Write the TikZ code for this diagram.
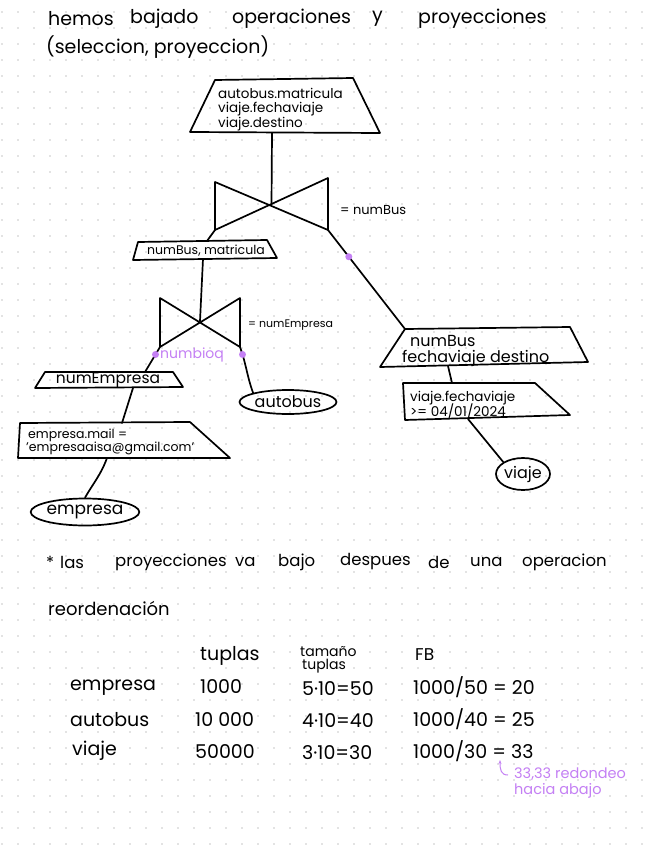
\documentclass[tikz,border=0pt]{standalone}
\usepackage{fontspec}
\setmainfont{Poppins}
\usetikzlibrary{shapes.geometric,arrows.meta}
\definecolor{violetink}{RGB}{196,128,244}
\definecolor{griddot}{RGB}{200,200,200}
\newcommand{\fsz}[1]{\fontsize{#1}{#1}\selectfont}
\begin{document}
\begin{tikzpicture}[x=1pt,y=-1pt,
  ink/.style={line width=1.7pt, line cap=round, line join=round},
  word/.style={font=\fsz{19}, inner sep=0pt, anchor=west},
  lbl/.style={font=\fsz{13.5}, inner sep=0pt, anchor=west},
  tbl/.style={font=\fsz{19}, inner sep=0pt, anchor=west},
  oval/.style={draw, ink, ellipse, inner sep=0pt},
  pdot/.style={fill=violetink, circle, inner sep=0pt, minimum size=7pt},
  ptxt/.style={text=violetink, inner sep=0pt, anchor=west}]
\useasboundingbox (0,0) rectangle (656,848);
\fill[white] (0,0) rectangle (656,848);
% dot grid
\foreach \i in {0,...,40} \foreach \j in {0,...,52}
  \fill[griddot] ({2+16*\i},{12+16*\j}) circle (0.9);

% title
\node[word] (t1) at (48,19) {hemos};
\node[word] (t2) at (130,19) {bajado};
\node[word] (t3) at (232,19) {operaciones};
\node[word] (t4) at (372,19) {y};
\node[word] (t5) at (418,19) {proyecciones};
\node[word] (t6) at (46,47) {(seleccion, proyeccion)};

% top projection
\coordinate (p1tl) at (215,80); \coordinate (p1tr) at (353,78);
\coordinate (p1br) at (380,133); \coordinate (p1bl) at (190,132);
\draw[ink] (p1tl) -- (p1tr) -- (p1br) -- (p1bl) -- cycle;
\node[lbl] (p1a) at (218,93) {autobus.matricula};
\node[lbl] (p1b) at (218,109) {viaje.fechaviaje};
\node[lbl] (p1c) at (218,124) {viaje.destino};
\coordinate (p1s) at (272,133);

% join 1
\coordinate (j1tl) at (215,182); \coordinate (j1bl) at (215,230);
\coordinate (j1tr) at (328,178); \coordinate (j1br) at (328,230);
\coordinate (j1c) at (271.5,205);
\draw[ink] (j1tl) -- (j1bl) -- (j1tr) -- (j1br) -- cycle;
\draw[ink] (p1s) -- (j1c);
\node[lbl,font=\fsz{13}] (j1l) at (340,210) {= numBus};

% projection 2
\coordinate (p2tl) at (138,242); \coordinate (p2tr) at (267,240);
\coordinate (p2br) at (277,258); \coordinate (p2bl) at (133,260);
\draw[ink] (p2tl) -- (p2tr) -- (p2br) -- (p2bl) -- cycle;
\node[inner sep=0pt,font=\fsz{12.5}] (p2t) at (206,251) {numBus, matricula};
\coordinate (p2n) at (207,241); \coordinate (p2s) at (203,259);
\draw[ink] (j1bl) -- (p2n);

% join 2
\coordinate (j2tl) at (160,298); \coordinate (j2bl) at (160,347);
\coordinate (j2tr) at (240,298); \coordinate (j2br) at (240,347);
\coordinate (j2c) at (200,321);
\draw[ink] (j2tl) -- (j2bl) -- (j2tr) -- (j2br) -- cycle;
\draw[ink] (p2s) -- (j2c);
\node[lbl,font=\fsz{11}] (j2l) at (248,325) {= numEmpresa};

% projection 3 (right)
\coordinate (p3tl) at (405,329); \coordinate (p3tr) at (570,327);
\coordinate (p3br) at (588,362); \coordinate (p3bl) at (380,367);
\draw[ink] (p3tl) -- (p3tr) -- (p3br) -- (p3bl) -- cycle;
\node[lbl,font=\fsz{16}] (p3a) at (410,341) {numBus};
\node[lbl,font=\fsz{16}] (p3b) at (402,358) {fechaviaje destino};
\coordinate (p3s) at (448,366);
\draw[ink] (j1br) -- node[pdot,pos=0.27] (d1) {} (p3tl);

% projection 4 numEmpresa
\coordinate (p4tl) at (45,372); \coordinate (p4tr) at (173,372);
\coordinate (p4br) at (183,387); \coordinate (p4bl) at (35,388);
\draw[ink] (p4tl) -- (p4tr) -- (p4br) -- (p4bl) -- cycle;
\node[inner sep=0pt,font=\fsz{15.5}] (p4t) at (108,380) {numEmpresa};
\coordinate (p4n) at (145,372); \coordinate (p4s) at (133,388);
\draw[ink] (j2bl) -- node[pdot,pos=0.3] (d2) {} (p4n);
\node[ptxt,font=\fsz{14}] (pt1) at (160,355) {numbioq};

% autobus
\node[oval, minimum width=97pt, minimum height=24pt, font=\fsz{16}] (aut) at (288,402) {autobus};
\draw[ink] (j2br) to[out=-70,in=110] node[pdot,pos=0.15] (d3) {} (aut.north west);

% selection empresa
\coordinate (s1tl) at (20,423); \coordinate (s1tr) at (190,422);
\coordinate (s1br) at (230,458); \coordinate (s1bl) at (18,458);
\draw[ink] (s1tl) -- (s1tr) -- (s1br) -- (s1bl) -- cycle;
\node[lbl,font=\fsz{12.5}] (s1a) at (28,435) {empresa.mail =};
\node[lbl,font=\fsz{12.5}] (s1b) at (26,448) {'empresaaisa@gmail.com'};
\coordinate (s1n) at (122,423); \coordinate (s1s) at (107,458);
\draw[ink] (p4s) -- (s1n);

% empresa
\node[oval, minimum width=90pt, minimum height=27pt, font=\fsz{17}] (emp) at (85,512) {empresa};
\draw[ink] (s1s) to[out=-110,in=60] (emp.north);

% selection viaje
\coordinate (s2tl) at (403,383); \coordinate (s2tr) at (535,383);
\coordinate (s2br) at (570,415); \coordinate (s2bl) at (405,420);
\draw[ink] (s2tl) -- (s2tr) -- (s2br) -- (s2bl) -- cycle;
\node[lbl,font=\fsz{13.5}] (s2a) at (410,398) {viaje.fechaviaje};
\node[lbl,font=\fsz{13.5}] (s2b) at (410,411) {>= 04/01/2024};
\coordinate (s2n) at (452,383); \coordinate (s2s) at (468,419);
\draw[ink] (p3s) -- (s2n);

% viaje
\node[oval, minimum width=54pt, minimum height=32pt, font=\fsz{16}] (via) at (523,474) {viaje};
\draw[ink] (s2s) -- (via.north west);

% note
\node[word,font=\fsz{16.5}] (n0) at (46,562) {*};
\node[word,font=\fsz{16.5}] (n1) at (60,562) {las};
\node[word,font=\fsz{16.5}] (n2) at (115,562) {proyecciones};
\node[word,font=\fsz{16.5}] (n3) at (235,562) {va};
\node[word,font=\fsz{16.5}] (n4) at (278,562) {bajo};
\node[word,font=\fsz{16.5}] (n5) at (340,562) {despues};
\node[word,font=\fsz{16.5}] (n6) at (428,562) {de};
\node[word,font=\fsz{16.5}] (n7) at (470,562) {una};
\node[word,font=\fsz{16.5}] (n8) at (522,562) {operacion};
\node[word,font=\fsz{18}] (n9) at (48,608) {reordenación};

% table
\node[tbl] (h1) at (200,656) {tuplas};
\node[tbl,font=\fsz{14}] (h2) at (300,652) {tamaño};
\node[tbl,font=\fsz{14}] (h3) at (302,666) {tuplas};
\node[tbl,font=\fsz{17}] (h4) at (415,655) {FB};
\node[tbl] (r1a) at (70,688) {empresa};
\node[tbl] (r1b) at (200,687) {1000};
\node[tbl] (r1c) at (302,689) {5·10=50};
\node[tbl] (r1d) at (413,687) {1000/50 = 20};
\node[tbl] (r2a) at (70,720) {autobus};
\node[tbl] (r2b) at (195,720) {10 000};
\node[tbl] (r2c) at (302,721) {4·10=40};
\node[tbl] (r2d) at (413,719) {1000/40 = 25};
\node[tbl] (r3a) at (72,751) {viaje};
\node[tbl] (r3b) at (195,752) {50000};
\node[tbl] (r3c) at (302,753) {3·10=30};
\node[tbl] (r3d) at (413,751) {1000/30 = 33};

% purple annotation
\coordinate (ar0) at (508,775); \coordinate (ar1) at (500,760);
\draw[violetink, line width=1pt, -{Stealth[length=4pt]}] (ar0) .. controls (501,775) and (500,770) .. (ar1);
\node[ptxt,font=\fsz{14.5}] (pa1) at (514,774) {33,33 redondeo};
\node[ptxt,font=\fsz{14.5}] (pa2) at (514,791) {hacia abajo};
\end{tikzpicture}
\end{document}
